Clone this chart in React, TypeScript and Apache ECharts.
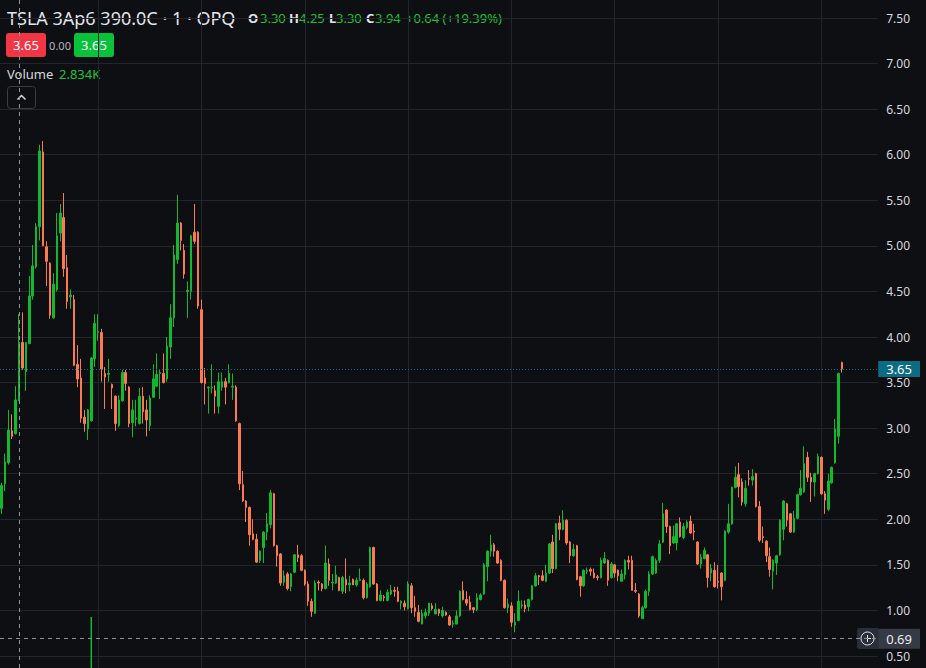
import { useEffect, useRef } from 'react';
import * as echarts from 'echarts';

// ---- OHLC data (1-minute bars) ----
const opens = [
  2.12, 2.39, 2.62, 2.97, 2.94, 3.30, 3.94, 3.62, 3.93, 4.45,
  4.77, 5.21, 6.03, 4.99, 4.81, 4.21, 4.52, 5.14, 5.31, 4.76,
  4.44, 4.41, 3.70, 3.55, 3.12, 2.99, 3.08, 3.76, 4.05, 4.05,
  3.60, 3.59, 3.48, 3.35, 3.03, 3.30, 3.61, 3.45, 3.06, 3.10,
  3.05, 3.35, 3.20, 3.03, 3.34, 3.46, 3.60, 3.60, 3.54, 3.89,
  4.21, 4.85, 5.25, 4.95, 4.50, 4.50, 5.15, 5.15, 4.30, 3.55,
  3.44, 3.44, 3.41, 3.24, 3.45, 3.51, 3.50, 3.45, 3.45, 3.05,
  2.38, 2.20, 2.13, 1.84, 1.78, 1.55, 1.69, 1.86, 1.94, 2.28,
  1.71, 1.62, 1.31, 1.40, 1.26, 1.42, 1.61, 1.60, 1.44, 1.29,
  1.10, 0.97, 1.31, 1.29, 1.24, 1.51, 1.30, 1.30, 1.36, 1.21,
  1.34, 1.28, 1.34, 1.28, 1.33, 1.33, 1.14, 1.26, 1.69, 1.29,
  1.11, 1.15, 1.11, 1.18, 1.22, 1.21, 1.08, 1.08, 1.02, 1.27,
  1.03, 0.98, 0.85, 0.94, 0.97, 1.05, 0.96, 1.01, 0.94, 0.98,
  0.93, 0.85, 0.85, 0.94, 1.22, 1.12, 1.09, 1.03, 1.01, 1.12,
  1.18, 1.48, 1.65, 1.72, 1.65, 1.55, 1.33, 1.03, 1.05, 0.84,
  0.89, 1.05, 1.06, 1.04, 1.12, 1.27, 1.38, 1.38, 1.32, 1.41,
  1.75, 1.46, 1.96, 1.89, 1.99, 1.75, 1.60, 1.71, 1.37, 1.27,
  1.43, 1.45, 1.41, 1.37, 1.36, 1.52, 1.55, 1.36, 1.50, 1.44,
  1.32, 1.39, 1.55, 1.55, 1.22, 1.18, 0.91, 1.03, 1.21, 1.40,
  1.41, 1.55, 1.75, 2.10, 1.92, 1.74, 1.74, 1.97, 1.80, 1.91,
  1.98, 1.87, 1.75, 1.51, 1.57, 1.61, 1.41, 1.44, 1.32, 1.41,
  1.33, 1.86, 1.95, 2.35, 2.49, 2.41, 2.17, 2.45, 2.43, 2.50,
  2.14, 1.81, 1.76, 1.59, 1.43, 1.52, 1.61, 1.89, 2.17, 2.06,
  1.86, 2.01, 2.27, 2.30, 2.68, 2.46, 2.41, 2.50, 2.68, 2.28,
  2.11, 2.40, 2.62, 2.91, 3.72,
];
const closes = [
  2.37, 2.63, 2.98, 2.91, 3.31, 3.94, 3.66, 3.94, 4.45, 4.78,
  5.21, 6.04, 5.00, 4.83, 4.24, 4.58, 5.11, 5.36, 4.75, 4.39,
  4.46, 3.69, 3.54, 3.11, 3.05, 3.20, 3.77, 4.15, 4.06, 3.65,
  3.56, 3.60, 3.44, 3.05, 3.31, 3.61, 3.49, 3.05, 3.20, 3.11,
  3.35, 3.18, 3.09, 3.33, 3.54, 3.59, 3.61, 3.50, 3.90, 4.21,
  4.90, 5.25, 5.06, 4.69, 4.51, 5.11, 5.05, 4.34, 3.50, 3.49,
  3.45, 3.45, 3.35, 3.51, 3.51, 3.45, 3.60, 3.46, 3.08, 2.39,
  2.20, 2.13, 1.83, 1.78, 1.53, 1.65, 1.86, 1.95, 2.29, 1.71,
  1.60, 1.30, 1.38, 1.24, 1.40, 1.61, 1.58, 1.44, 1.29, 1.10,
  0.99, 1.30, 1.30, 1.24, 1.52, 1.33, 1.31, 1.39, 1.22, 1.36,
  1.28, 1.30, 1.28, 1.33, 1.34, 1.14, 1.29, 1.69, 1.29, 1.11,
  1.17, 1.14, 1.20, 1.22, 1.21, 1.10, 1.10, 1.04, 1.29, 1.03,
  0.99, 0.88, 0.97, 0.98, 1.08, 1.02, 1.01, 0.97, 1.00, 0.95,
  0.84, 0.86, 0.94, 1.21, 1.12, 1.08, 1.01, 1.01, 1.14, 1.17,
  1.50, 1.65, 1.72, 1.65, 1.52, 1.33, 1.03, 1.07, 0.87, 0.87,
  1.10, 1.06, 1.02, 1.12, 1.27, 1.38, 1.37, 1.33, 1.41, 1.73,
  1.46, 1.95, 1.89, 1.99, 1.74, 1.60, 1.67, 1.34, 1.27, 1.44,
  1.44, 1.43, 1.36, 1.36, 1.55, 1.57, 1.33, 1.51, 1.41, 1.38,
  1.40, 1.55, 1.53, 1.22, 1.21, 0.94, 1.03, 1.21, 1.40, 1.59,
  1.55, 1.73, 2.06, 1.92, 1.71, 1.81, 1.95, 1.81, 1.92, 1.97,
  1.85, 1.86, 1.51, 1.58, 1.66, 1.36, 1.46, 1.26, 1.31, 1.26,
  1.87, 1.95, 2.35, 2.46, 2.36, 2.19, 2.34, 2.44, 2.47, 2.14,
  1.77, 1.80, 1.60, 1.45, 1.55, 1.60, 1.99, 2.20, 1.99, 1.86,
  2.01, 2.27, 2.34, 2.61, 2.46, 2.41, 2.50, 2.69, 2.28, 2.21,
  2.42, 2.57, 2.99, 3.60, 3.65,
];
const lows = [
  2.06, 2.31, 2.60, 2.88, 2.93, 3.30, 3.64, 3.41, 3.92, 4.41,
  4.75, 5.06, 5.00, 4.56, 4.20, 4.20, 4.50, 5.05, 4.66, 4.31,
  4.31, 3.68, 3.45, 3.06, 2.96, 2.87, 3.07, 3.67, 3.96, 3.51,
  3.21, 3.51, 3.21, 2.97, 3.01, 3.29, 3.41, 3.01, 2.90, 3.02,
  3.04, 3.05, 2.91, 2.97, 3.33, 3.45, 3.32, 3.49, 3.51, 3.76,
  4.11, 4.80, 4.95, 4.64, 4.21, 4.41, 5.02, 4.31, 3.49, 3.26,
  3.16, 3.38, 3.16, 3.16, 3.41, 3.26, 3.49, 3.31, 3.07, 2.32,
  2.19, 1.97, 1.71, 1.77, 1.52, 1.52, 1.52, 1.77, 1.90, 1.70,
  1.48, 1.27, 1.27, 1.22, 1.21, 1.41, 1.53, 1.43, 1.27, 1.05,
  0.93, 0.96, 1.22, 1.21, 1.23, 1.27, 1.22, 1.29, 1.21, 1.18,
  1.19, 1.21, 1.28, 1.26, 1.32, 1.12, 1.13, 1.25, 1.28, 1.10,
  1.10, 1.10, 1.10, 1.17, 1.15, 1.09, 1.01, 1.00, 1.01, 0.97,
  0.93, 0.87, 0.85, 0.91, 0.94, 1.00, 0.96, 0.94, 0.92, 0.94,
  0.83, 0.81, 0.85, 0.93, 1.11, 1.05, 1.00, 0.97, 0.99, 1.11,
  1.17, 1.32, 1.59, 1.59, 1.51, 1.32, 1.02, 0.97, 0.82, 0.76,
  0.88, 1.02, 0.98, 0.99, 1.11, 1.26, 1.28, 1.32, 1.31, 1.40,
  1.41, 1.45, 1.77, 1.88, 1.72, 1.52, 1.59, 1.33, 1.15, 1.26,
  1.40, 1.38, 1.35, 1.33, 1.35, 1.51, 1.27, 1.35, 1.36, 1.32,
  1.32, 1.34, 1.45, 1.22, 1.19, 0.92, 0.91, 1.02, 1.16, 1.39,
  1.40, 1.52, 1.74, 1.85, 1.62, 1.73, 1.66, 1.80, 1.78, 1.89,
  1.84, 1.77, 1.50, 1.46, 1.56, 1.25, 1.32, 1.25, 1.24, 1.11,
  1.32, 1.84, 1.94, 2.34, 2.24, 2.15, 2.14, 2.37, 2.37, 2.13,
  1.75, 1.74, 1.53, 1.37, 1.23, 1.39, 1.60, 1.77, 1.92, 1.85,
  1.85, 2.00, 2.26, 2.29, 2.41, 2.19, 2.25, 2.49, 2.27, 2.06,
  2.09, 2.39, 2.61, 2.83, 3.61,
];
const highs = [
  2.40, 2.72, 3.20, 3.15, 3.46, 4.25, 4.27, 3.94, 4.67, 5.01,
  5.25, 6.11, 6.15, 5.05, 4.82, 4.70, 5.36, 5.46, 5.58, 4.90,
  4.52, 4.46, 3.91, 3.76, 3.20, 3.21, 3.78, 4.25, 4.25, 4.09,
  3.67, 3.76, 3.49, 3.36, 3.36, 3.64, 3.64, 3.46, 3.31, 3.31,
  3.44, 3.45, 3.31, 3.36, 3.70, 3.82, 3.64, 3.82, 4.00, 4.36,
  5.01, 5.56, 5.26, 5.02, 4.61, 5.12, 5.46, 5.16, 4.41, 3.66,
  3.46, 3.70, 3.47, 3.61, 3.61, 3.55, 3.70, 3.60, 3.47, 3.06,
  2.53, 2.21, 2.14, 2.00, 1.84, 1.66, 1.87, 2.07, 2.32, 2.29,
  1.72, 1.63, 1.44, 1.42, 1.41, 1.62, 1.72, 1.62, 1.45, 1.32,
  1.13, 1.33, 1.33, 1.30, 1.71, 1.57, 1.40, 1.49, 1.37, 1.38,
  1.57, 1.38, 1.35, 1.36, 1.46, 1.35, 1.31, 1.70, 1.70, 1.30,
  1.22, 1.17, 1.23, 1.28, 1.26, 1.26, 1.11, 1.11, 1.32, 1.30,
  1.16, 1.06, 1.01, 1.02, 1.08, 1.08, 1.08, 1.02, 1.04, 0.99,
  0.95, 0.89, 1.00, 1.22, 1.32, 1.21, 1.16, 1.03, 1.19, 1.19,
  1.52, 1.66, 1.83, 1.74, 1.66, 1.56, 1.34, 1.13, 1.09, 0.97,
  1.22, 1.11, 1.11, 1.13, 1.28, 1.41, 1.39, 1.44, 1.50, 1.74,
  1.83, 1.96, 2.04, 2.10, 2.00, 1.76, 1.73, 1.72, 1.38, 1.45,
  1.47, 1.47, 1.46, 1.39, 1.58, 1.64, 1.56, 1.53, 1.51, 1.45,
  1.45, 1.56, 1.60, 1.60, 1.30, 1.19, 1.05, 1.23, 1.43, 1.60,
  1.57, 1.77, 2.18, 2.11, 1.93, 1.93, 1.96, 2.02, 1.96, 1.99,
  2.04, 1.95, 1.76, 1.62, 1.69, 1.62, 1.51, 1.53, 1.50, 1.42,
  1.88, 2.17, 2.36, 2.58, 2.62, 2.45, 2.43, 2.54, 2.55, 2.51,
  2.20, 1.92, 1.77, 1.69, 1.56, 1.61, 2.00, 2.21, 2.18, 2.07,
  2.09, 2.28, 2.54, 2.80, 2.74, 2.51, 2.51, 2.72, 2.69, 2.31,
  2.50, 2.58, 3.10, 3.61, 3.73,
];

// time axis: 1-minute bars starting 09:32, with empty slots at the right
const START_MINUTE = 9 * 60 + 32;
const SLOT_COUNT = 255;
const pad2 = (n: number) => String(n).padStart(2, '0');
const categories = Array.from({ length: SLOT_COUNT }, (_, i) => {
  const m = START_MINUTE + i;
  return `${pad2(Math.floor(m / 60))}:${pad2(m % 60)}`;
});
const gridTimes = ['10:00', '10:30', '11:00', '11:30', '12:00', '12:30', '13:00', '13:30'];
const crosshairTime = '09:37';
const crosshairPrice = 0.69;
const crosshairVolume = '2.834K';
const lastPrice = 3.65;
const bidPrice = 3.65;
const askPrice = 3.65;
const spread = 0.0;
const volumeBars = [{ time: '09:58', value: 104000 }];
const volumeAxisMax = 1360000;
const title = 'TSLA 3Ap6 390.0C · 1 · OPQ';

// price axis
const yMin = 0.5;
const yMax = 7.5;
const yStep = 0.5;

const BG = '#0e0f12';
const GRID = '#22252b';
const UP = '#12b92f';
const DOWN = '#fb7a4e';
const TXT = '#d6d8de';
const GREEN_TXT = '#19c23a';
const TEAL = '#0b6c84';
const FONT = "'Noto Sans', sans-serif";

export default function App() {
  const ref = useRef<HTMLDivElement>(null);
  useEffect(() => {
    const chart = echarts.init(ref.current!, null, { renderer: 'svg' });
    const H = 668;
    const plotTop = 18;
    const plotBottom = 656;
    const pxPerUnit = (plotBottom - plotTop) / (yMax - yMin);
    const fullMax = yMax + plotTop / pxPerUnit;
    const fullMin = yMin - (H - plotBottom) / pxPerUnit;
    const slotW = 3.449;
    const gridLeft = 0.43 - slotW / 2;
    const gridWidth = SLOT_COUNT * slotW;

    const candleData = opens.map((o, i) => [o, closes[i], lows[i], highs[i]]);
    const volData = categories.map((c) => {
      const b = volumeBars.find((v) => v.time === c);
      return b ? b.value : '-';
    });
    const ci = categories.indexOf(crosshairTime);
    const cO = opens[ci], cH = highs[ci], cL = lows[ci], cC = closes[ci];
    const chg = cC - cO;
    const pct = (chg / cO) * 100;

    const ohlcItems = [
      { k: 'O', v: cO.toFixed(2), x: 248, vx: 260 },
      { k: 'H', v: cH.toFixed(2), x: 289, vx: 299 },
      { k: 'L', v: cL.toFixed(2), x: 329, vx: 336 },
      { k: 'C', v: cC.toFixed(2), x: 366, vx: 375 },
      { k: '', v: `${chg >= 0 ? '+' : ''}${chg.toFixed(2)} (${pct >= 0 ? '+' : ''}${pct.toFixed(2)}%)`, x: 406, vx: 406 },
    ];

    const ohlcGraphics: any[] = [];
    ohlcItems.forEach((it) => {
      if (it.k) {
        ohlcGraphics.push({
          type: 'text', x: it.x, y: 18,
          style: { text: it.k, fill: '#e3e5ea', fontSize: 13, fontWeight: 'bold', fontFamily: FONT, verticalAlign: 'middle' },
        });
      }
      ohlcGraphics.push({
        type: 'text', x: it.vx, y: 18,
        style: { text: it.v, fill: GREEN_TXT, fontSize: 13, fontFamily: FONT, verticalAlign: 'middle' },
      });
    });

    const option: any = {
      animation: false,
      backgroundColor: BG,
      textStyle: { fontFamily: FONT },
      grid: [
        { left: gridLeft, top: 0, width: gridWidth, height: H },
        { left: gridLeft, top: plotTop, width: gridWidth, height: plotBottom - plotTop },
      ],
      xAxis: [
        { type: 'category', gridIndex: 0, data: categories, boundaryGap: true, show: false },
        { type: 'category', gridIndex: 1, data: categories, boundaryGap: true, show: false },
      ],
      yAxis: [
        { type: 'value', gridIndex: 0, min: fullMin, max: fullMax, show: false },
        {
          type: 'value', gridIndex: 1, min: yMin, max: yMax, interval: yStep, position: 'right',
          axisLine: { show: false }, axisTick: { show: false },
          axisLabel: { color: TXT, fontSize: 12, margin: 8, fontFamily: FONT, formatter: (v: number) => v.toFixed(2) },
          splitLine: { show: true, lineStyle: { color: GRID, width: 1 } },
        },
        { type: 'value', gridIndex: 0, min: 0, max: volumeAxisMax, show: false },
      ],
      series: [
        {
          type: 'line', xAxisIndex: 1, yAxisIndex: 1, data: [], silent: true,
        },
        {
          type: 'bar', xAxisIndex: 0, yAxisIndex: 2, data: volData, barWidth: 1.5, silent: true,
          itemStyle: { color: UP },
          markLine: {
            z: 1, silent: true, symbol: ['none', 'none'], label: { show: false },
            lineStyle: { color: GRID, type: 'solid', width: 1 },
            emphasis: { disabled: true },
            data: gridTimes.map((t) => ({ xAxis: t })),
          },
        },
        {
          type: 'candlestick', xAxisIndex: 0, yAxisIndex: 0, data: candleData, barWidth: 2,
          itemStyle: { color: UP, color0: DOWN, borderColor: UP, borderColor0: DOWN, borderWidth: 1 },
          silent: true,
          markLine: {
            silent: true, symbol: ['none', 'none'], label: { show: false },
            emphasis: { disabled: true },
            data: [
              { xAxis: crosshairTime, lineStyle: { color: '#8f929b', type: [4, 4], width: 1 } },
              {
                yAxis: lastPrice, lineStyle: { color: TEAL, type: [1, 2], width: 1 },
                label: {
                  show: true, position: 'end', distance: 0, formatter: lastPrice.toFixed(2), color: '#ffffff',
                  backgroundColor: TEAL, padding: [1, 8, 0, 8], lineHeight: 15, fontSize: 13, fontFamily: FONT,
                },
              },
              {
                yAxis: crosshairPrice, lineStyle: { color: '#8f929b', type: [4, 4], width: 1 },
                label: {
                  show: true, position: 'end', distance: 0, formatter: crosshairPrice.toFixed(2), color: '#e8e9ec',
                  backgroundColor: '#363a45', padding: [3, 8, 2, 8], lineHeight: 15, fontSize: 13, fontFamily: FONT,
                },
              },
            ],
          },
        },
      ],
      graphic: [
        { type: 'text', x: 7, y: 18, style: { text: title, fill: '#e3e5ea', fontSize: 18, fontFamily: FONT, verticalAlign: 'middle' } },
        ...ohlcGraphics,
        { type: 'rect', shape: { x: 6, y: 33, width: 40, height: 24, r: 3 }, style: { fill: '#f23645' } },
        { type: 'text', x: 26, y: 45, style: { text: bidPrice.toFixed(2), fill: '#ffffff', fontSize: 13, fontFamily: FONT, align: 'center', verticalAlign: 'middle' } },
        { type: 'text', x: 60, y: 45, style: { text: spread.toFixed(2), fill: '#b2b5be', fontSize: 11, fontFamily: FONT, align: 'center', verticalAlign: 'middle' } },
        { type: 'rect', shape: { x: 74, y: 33, width: 40, height: 24, r: 3 }, style: { fill: '#08c23c' } },
        { type: 'text', x: 94, y: 45, style: { text: askPrice.toFixed(2), fill: '#ffffff', fontSize: 13, fontFamily: FONT, align: 'center', verticalAlign: 'middle' } },
        { type: 'text', x: 7, y: 74, style: { text: 'Volume', fill: TXT, fontSize: 13, fontFamily: FONT, verticalAlign: 'middle' } },
        { type: 'text', x: 59, y: 74, style: { text: crosshairVolume, fill: GREEN_TXT, fontSize: 13, fontFamily: FONT, verticalAlign: 'middle' } },
        { type: 'rect', shape: { x: 7.5, y: 86.5, width: 28, height: 22, r: 3 }, style: { fill: BG, stroke: '#3a3d46', lineWidth: 1 } },
        { type: 'polyline', shape: { points: [[17.5, 99.5], [21.5, 95.5], [25.5, 99.5]] }, style: { stroke: '#d6d8de', lineWidth: 1.5, fill: null } },
        { type: 'rect', shape: { x: 857, y: 628, width: 21, height: 21, r: [2, 0, 0, 2] }, style: { fill: '#2a2e39' } },
        { type: 'circle', shape: { cx: 867.5, cy: 638.5, r: 6.5 }, style: { fill: null, stroke: '#e3e5ea', lineWidth: 1 } },
        { type: 'line', shape: { x1: 864, y1: 638.5, x2: 871, y2: 638.5 }, style: { stroke: '#e3e5ea', lineWidth: 1 } },
        { type: 'line', shape: { x1: 867.5, y1: 635, x2: 867.5, y2: 642 }, style: { stroke: '#e3e5ea', lineWidth: 1 } },
      ],
    };
    chart.setOption(option);
    return () => chart.dispose();
  }, []);
  return <div ref={ref} style={{ position: 'fixed', left: 0, top: 0, width: 926, height: 668, background: BG }} />;
}
